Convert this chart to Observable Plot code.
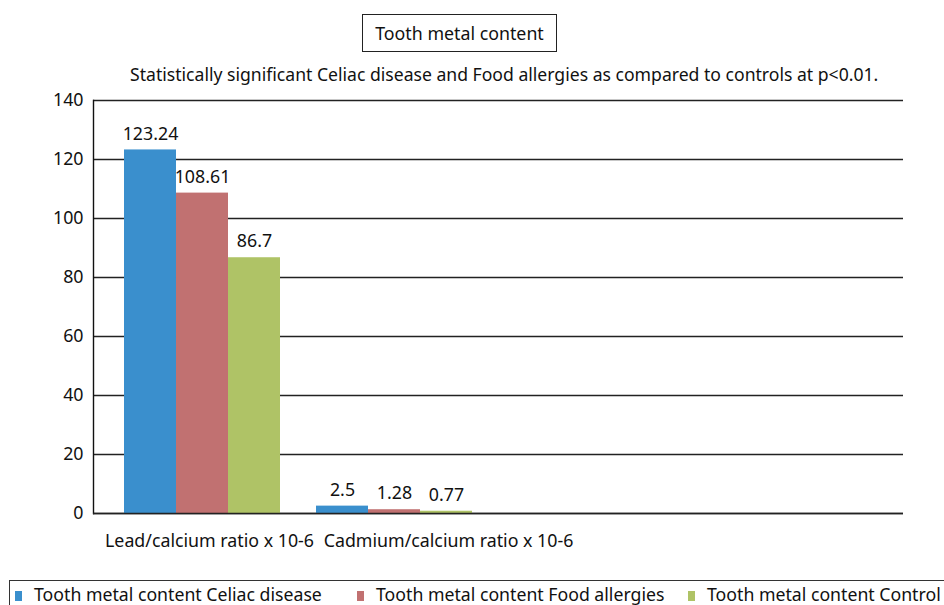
<!DOCTYPE html>
<html>
<head>
<meta charset="utf-8">
<script src="https://cdn.jsdelivr.net/npm/d3@7"></script>
<script src="https://cdn.jsdelivr.net/npm/@observablehq/plot@0.6"></script>
<style>
  html, body { margin: 0; padding: 0; background: #fff; }
  #wrap { position: relative; width: 944px; height: 605px; overflow: hidden; font-family: "Noto Sans", sans-serif; color: #111; }
  #title { position: absolute; left: 362px; top: 14px; width: 193px; height: 36px; border: 1px solid #222; font-size: 17.8px; line-height: 36px; text-align: center; }
  #subtitle { position: absolute; left: 130px; top: 62px; font-size: 17.6px; white-space: nowrap; }
  #chart { position: absolute; left: 0; top: 88px; }
  #legend { position: absolute; left: 9px; top: 580px; width: 960px; height: 40px; border: 1px solid #333; box-sizing: border-box; font-size: 17.7px; }
  .item { position: absolute; top: 1px; white-space: nowrap; }
  .sw { display: inline-block; width: 7px; height: 10px; margin-right: 12px; vertical-align: 0px; }
</style>
</head>
<body>
<div id="wrap">
  <div id="title">Tooth metal content</div>
  <div id="subtitle">Statistically significant Celiac disease and Food allergies as compared to controls at p&lt;0.01.</div>
  <div id="chart"></div>
  <div id="legend"></div>
</div>
<script>
const categories = ["Lead/calcium ratio x 10-6", "Cadmium/calcium ratio x 10-6"];
const emptySlots = ["slot3", "slot4"];
const series = ["Celiac disease", "Food allergies", "Control"];
const leadValues = [123.24, 108.61, 86.7];
const cadmiumValues = [2.5, 1.28, 0.77];
const seriesColors = ["#3a8fcd", "#c17171", "#afc366"];
const yTicks = [0, 20, 40, 60, 80, 100, 120, 140];
const legendPrefix = "Tooth metal content ";

const data = [];
series.forEach((s, i) => data.push({category: categories[0], series: s, index: i, value: leadValues[i]}));
series.forEach((s, i) => data.push({category: categories[1], series: s, index: i, value: cadmiumValues[i]}));

const W = 944, H = 470, ML = 93, MR = 41, MT = 12, MB = 45;
const FS = 17.8;
const xDomain = [...categories, ...emptySlots];
const xOpts = {paddingInner: 0.1875, paddingOuter: 0.203, align: 0.4};
// same band layout as the Plot x scale, used to split each band into three bars
const band = d3.scaleBand(xDomain, [ML, W - MR]).paddingInner(xOpts.paddingInner).paddingOuter(xOpts.paddingOuter).align(xOpts.align);
const sub = band.bandwidth() / series.length;

const font = "Noto Sans, sans-serif";

const barMarks = series.map((s, i) =>
  Plot.barY(data.filter(d => d.series === s), {
    x: "category", y: "value", fill: "series",
    insetLeft: i * sub, insetRight: (series.length - 1 - i) * sub
  })
);
const labelMarks = series.map((s, i) =>
  Plot.text(data.filter(d => d.series === s), {
    x: "category", y: "value", text: d => String(d.value),
    dx: (i - (series.length - 1) / 2) * sub, dy: -16, fontSize: FS
  })
);

const chart = Plot.plot({
  width: W,
  height: H,
  marginLeft: ML,
  marginRight: MR,
  marginTop: MT,
  marginBottom: MB,
  style: {fontFamily: font, fontSize: FS + "px", color: "#111", background: "transparent"},
  x: {domain: xDomain, ...xOpts, axis: null, label: null},
  y: {domain: [0, 140], axis: null, label: null},
  color: {domain: series, range: seriesColors},
  marks: [
    Plot.ruleY(yTicks, {stroke: "#222", strokeWidth: 1.4}),
    Plot.axisY({ticks: yTicks, tickSize: 0, tickPadding: 10, fontSize: FS, label: null}),
    Plot.frame({anchor: "left", stroke: "#111", strokeWidth: 1.4}),
    ...barMarks,
    Plot.ruleY([0], {stroke: "#222", strokeWidth: 1.4}),
    ...labelMarks,
    Plot.text([categories[0]], {x: d => d, text: d => d, frameAnchor: "bottom", dy: 33, dx: 7, fontSize: FS}),
    Plot.text([categories[1]], {x: d => d, text: d => d, frameAnchor: "bottom", dy: 33, dx: 54, fontSize: FS})
  ]
});
document.getElementById("chart").appendChild(chart);

const legend = document.getElementById("legend");
const legendLefts = [5, 347, 678];
series.forEach((s, i) => {
  const item = document.createElement("div");
  item.className = "item";
  item.style.left = legendLefts[i] + "px";
  item.innerHTML = `<span class="sw" style="background:${seriesColors[i]}"></span>${legendPrefix}${s}`;
  legend.appendChild(item);
});
</script>
</body>
</html>
